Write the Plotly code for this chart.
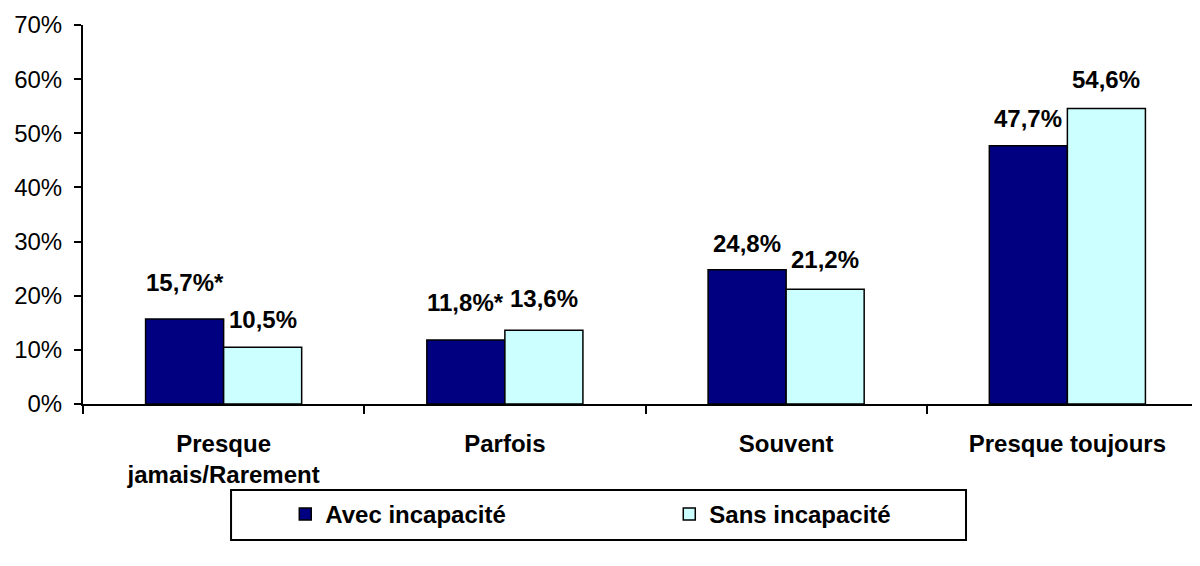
import plotly.graph_objects as go

categories = ["Presque<br>jamais/Rarement", "Parfois", "Souvent", "Presque toujours"]
avec = [15.7, 11.8, 24.8, 47.7]
sans = [10.5, 13.6, 21.2, 54.6]
avec_labels = ["15,7%*", "11,8%*", "24,8%", "47,7%"]
sans_labels = ["10,5%", "13,6%", "21,2%", "54,6%"]
yticks = [0, 10, 20, 30, 40, 50, 60, 70]
ytick_text = ["0%", "10%", "20%", "30%", "40%", "50%", "60%", "70%"]

# label vertical offsets (px) as placed in the original
avec_label_shift = [21, 22, 11, 12]
sans_label_shift = [12, 16, 14, 13]

FONT = "Liberation Sans, Arial, sans-serif"
FS = 24

fig = go.Figure()
fig.add_trace(go.Bar(name="Avec incapacité", x=categories, y=avec,
                     marker=dict(color="#000080", line=dict(color="black", width=1.5))))
fig.add_trace(go.Bar(name="Sans incapacité", x=categories, y=sans,
                     marker=dict(color="#CCFFFF", line=dict(color="black", width=1.5))))

annotations = []
for c, v, t, s in zip(categories, avec, avec_labels, avec_label_shift):
    annotations.append(dict(x=c, y=v, text=t, showarrow=False, xshift=-39, yshift=s,
                            yanchor="bottom", font=dict(family=FONT, size=FS, color="black", weight="bold"),
                            xref="x", yref="y"))
for c, v, t, s in zip(categories, sans, sans_labels, sans_label_shift):
    annotations.append(dict(x=c, y=v, text=t, showarrow=False, xshift=39, yshift=s,
                            yanchor="bottom", font=dict(family=FONT, size=FS, color="black", weight="bold"),
                            xref="x", yref="y"))

fig.update_layout(
    width=1200, height=566,
    margin=dict(l=75, r=0, t=17, b=170, autoexpand=False),
    plot_bgcolor="white", paper_bgcolor="white",
    barmode="group", bargap=0.445, bargroupgap=0,
    font=dict(family=FONT, size=FS, color="black"),
    annotations=annotations,
    showlegend=True,
    legend=dict(orientation="h", x=0.1798, y=-0.232, xanchor="left", yanchor="top",
                font=dict(family=FONT, size=FS, color="black", weight="bold"),
                entrywidth=339, entrywidthmode="pixels",
                bgcolor="rgba(0,0,0,0)", borderwidth=0),
    shapes=[dict(type="rect", xref="paper", yref="paper",
                 x0=0.1316, x1=0.7849, y0=-0.3588, y1=-0.2269,
                 line=dict(color="black", width=2), fillcolor="rgba(0,0,0,0)", layer="below")],
)
fig.update_xaxes(
    type="category", range=[-0.5, 3.5], automargin=False,
    showline=True, linecolor="black", linewidth=2,
    ticks="outside", tickson="boundaries", ticklen=8, tickwidth=2, tickcolor="black",
    tickfont=dict(family=FONT, size=FS, color="black", weight="bold"),
    ticklabelstandoff=17,
    showgrid=False, zeroline=False,
)
fig.update_yaxes(
    range=[0, 70], tickvals=yticks, ticktext=ytick_text, automargin=False,
    showline=True, linecolor="black", linewidth=2,
    ticks="outside", ticklen=7, tickwidth=2, tickcolor="black",
    tickfont=dict(family=FONT, size=FS, color="black"),
    ticklabelstandoff=7,
    showgrid=False, zeroline=False,
)

fig.write_html("out.html")
